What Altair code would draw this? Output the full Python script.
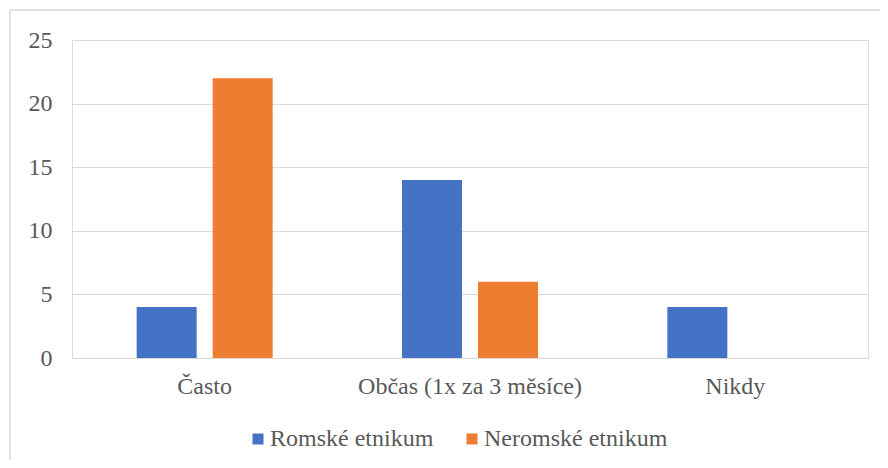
import altair as alt
import pandas as pd

categories = ["Často", "Občas (1x za 3 měsíce)", "Nikdy"]
series = ["Romské etnikum", "Neromské etnikum"]
romske = [4, 14, 4]
neromske = [22, 6, 0]
colors = ["#4472C4", "#ED7D31"]
y_ticks = [0, 5, 10, 15, 20, 25]

rows = []
for c, r, n in zip(categories, romske, neromske):
    rows.append({"kategorie": c, "skupina": series[0], "hodnota": r})
    rows.append({"kategorie": c, "skupina": series[1], "hodnota": n})
df = pd.DataFrame(rows)

FONT = "Liberation Serif"
TXT = "#595959"
FS = 24

bars = alt.Chart(df).mark_bar().encode(
    x=alt.X("kategorie:N", sort=categories, title=None,
            scale=alt.Scale(paddingInner=0, paddingOuter=0),
            axis=alt.Axis(labelAngle=0, ticks=False, domain=False, grid=False,
                          labelFont=FONT, labelFontSize=FS, labelColor=TXT,
                          labelPadding=16, labelLimit=0)),
    xOffset=alt.XOffset("skupina:N", sort=series,
                        scale=alt.Scale(paddingInner=0.2105, paddingOuter=0.8507)),
    y=alt.Y("hodnota:Q", title=None,
            scale=alt.Scale(domain=[0, 25]),
            axis=alt.Axis(values=y_ticks, ticks=False, domain=False,
                          labelFont=FONT, labelFontSize=FS, labelColor=TXT,
                          labelPadding=20, gridColor="#D9D9D9", gridWidth=1)),
    color=alt.Color("skupina:N", sort=series,
                    scale=alt.Scale(domain=series, range=colors),
                    legend=alt.Legend(title=None, orient="none", direction="horizontal",
                                      legendX=174, legendY=387, padding=0,
                                      symbolType="square", symbolSize=121,
                                      symbolStrokeWidth=0, labelLimit=0,
                                      labelFont=FONT, labelFontSize=FS, labelColor=TXT,
                                      labelOffset=0, columnPadding=26)),
)

border = alt.Chart(pd.DataFrame({"a": [0]})).mark_rect(
    fill=None, stroke="#D9D9D9", strokeWidth=1.5, clip=False
).encode(
    x=alt.value(-62), x2=alt.value(900), y=alt.value(-30), y2=alt.value(600)
)

chart = alt.layer(border, bars).properties(
    width=796, height=318,
    autosize=alt.AutoSizeParams(type="none"),
    padding={"left": 64, "top": 32, "right": 12, "bottom": 102},
).configure_view(stroke=None).configure(background="white", font=FONT)

chart.save("out.html", embed_options={"renderer": "svg", "actions": False})
